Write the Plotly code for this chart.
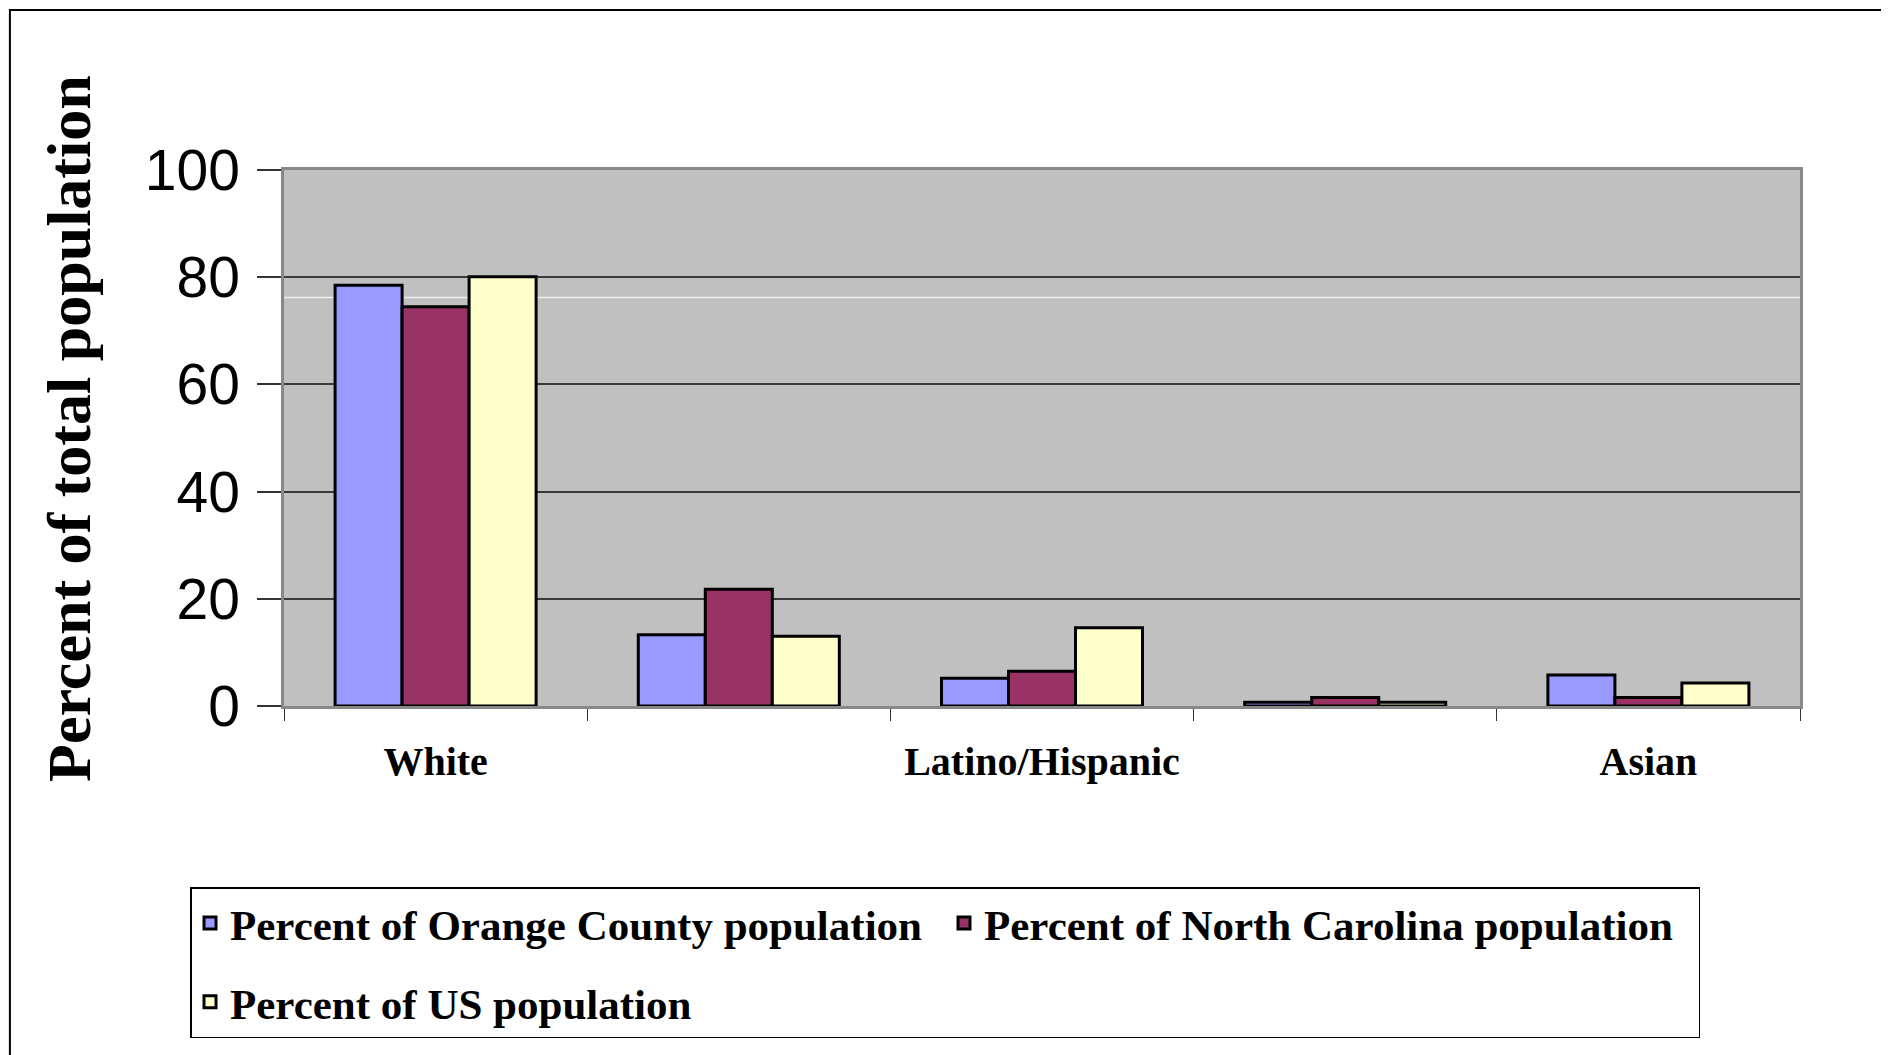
import plotly.graph_objects as go

# categories (only every other label is printed on the axis in the original)
categories = ["White", "Black", "Latino/Hispanic", "American Indian", "Asian"]
tick_labels = ["White", "", "Latino/Hispanic", "", "Asian"]

orange_county = [78.5, 13.3, 5.2, 0.7, 5.8]
north_carolina = [74.5, 21.8, 6.5, 1.6, 1.6]
us_population = [80.1, 13.0, 14.6, 0.7, 4.3]

series = [
    ("Percent of Orange County population", orange_county, "#9999FF"),
    ("Percent of North Carolina population", north_carolina, "#993366"),
    ("Percent of US population", us_population, "#FFFFCC"),
]

fig = go.Figure()
for i, (name, vals, color) in enumerate(series):
    fig.add_trace(go.Bar(x=categories, y=vals, name=name, legendgroup=f"g{i}",
                         marker=dict(color=color, line=dict(color="black", width=3))))

serif = "Liberation Serif, Times New Roman, serif"
sans = "Liberation Sans, Arial, sans-serif"

fig.update_layout(
    width=1889, height=1055,
    margin=dict(l=276, r=97, t=162, b=357),
    paper_bgcolor="white", plot_bgcolor="#C0C0C0",
    barmode="group", bargap=0.337, bargroupgap=0,
    showlegend=True,
    legend=dict(orientation="h", x=-0.062, y=-0.3377, xanchor="left", yanchor="top",
                bordercolor="black", borderwidth=1.5, bgcolor="white",
                font=dict(family=serif, size=43, color="black", weight="bold"),
                traceorder="grouped", tracegroupgap=20,
                entrywidth=709, entrywidthmode="pixels"),
)

fig.update_xaxes(
    tickmode="array", tickvals=categories, ticktext=tick_labels,
    tickson="boundaries", ticks="outside", ticklen=12, tickcolor="#333", tickwidth=1,
    tickfont=dict(family=serif, size=40, color="black", weight="bold"), ticklabelstandoff=18,
    showline=True, linecolor="#888", linewidth=2.5, mirror=True, showgrid=False,
)
fig.update_yaxes(
    range=[0, 100], dtick=20, ticks="outside", ticklen=24, tickcolor="#333", tickwidth=1.5,
    tickfont=dict(family=sans, size=57, color="black"), ticklabelstandoff=6,
    showgrid=True, gridcolor="#3a3a3a", gridwidth=1.5,
    showline=True, linecolor="#888", linewidth=2.5, mirror=True, zeroline=False,
)

# y axis title
fig.add_annotation(text="<b>Percent of total population</b>", textangle=-90,
                   xref="paper", yref="paper", x=-0.1418, y=0.517,
                   xanchor="center", yanchor="middle", showarrow=False,
                   font=dict(family=serif, size=62, color="black"))

# faint white line seen in the plot area
fig.add_shape(type="line", xref="paper", yref="y", x0=0, x1=1, y0=76.2, y1=76.2,
              line=dict(color="#EDEDED", width=1.5), layer="between")

# outer frame of the chart
fig.add_shape(type="rect", xref="paper", yref="paper",
              x0=-0.1808, x1=1.0548, y0=-0.66, y1=1.2985,
              line=dict(color="black", width=2), layer="above")

fig.write_html("out.html")
